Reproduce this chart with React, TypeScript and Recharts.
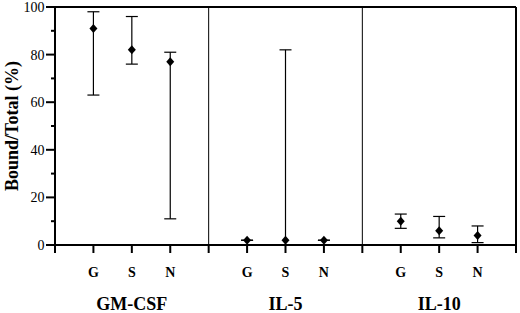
import { ScatterChart, Scatter, XAxis, YAxis, ErrorBar, ReferenceLine } from 'recharts';

const groups = ['GM-CSF', 'IL-5', 'IL-10'];
const subsets = ['G', 'S', 'N'];

// bound/total %, one value per group x subset (G, S, N)
const means = [91, 82, 77, 2, 2, 2, 10, 6, 4];
const lows = [63, 76, 11, 2, 0, 2, 7, 3, 1];
const highs = [98, 96, 81, 2, 82, 2, 13, 12, 8];

const xTicks = [0, 1, 2, 3, 4, 5, 6, 7, 8, 9, 10, 11, 12];
const yTicks = [0, 10, 20, 30, 40, 50, 60, 70, 80, 90, 100];
const yLabels = ['0', '20', '40', '60', '80', '100'];

const font = '"Liberation Serif", "Times New Roman", serif';

const data = means.map((m, i) => ({
  x: Math.floor(i / 3) * 4 + (i % 3) + 1,
  y: m,
  err: [m - lows[i], highs[i] - m],
}));

function XTick(props: any) {
  const { x, y, payload } = props;
  const v = payload.value;
  const pos = v % 4;
  const letter = pos === 0 ? '' : subsets[pos - 1];
  const group = pos === 2 ? groups[Math.floor(v / 4)] : '';
  return (
    <g>
      <line x1={x} x2={x} y1={y} y2={y + 8} stroke="#000" strokeWidth={2} />
      {letter && (
        <text x={x} y={y + 32} textAnchor="middle" fontSize={14} fontWeight="bold" fontFamily={font} fill="#000">
          {letter}
        </text>
      )}
      {group && (
        <text x={x} y={y + 65} textAnchor="middle" fontSize={18} fontWeight="bold" fontFamily={font} fill="#000">
          {group}
        </text>
      )}
    </g>
  );
}

function YTick(props: any) {
  const { x, y, payload } = props;
  const label = String(payload.value);
  const major = yLabels.includes(label);
  return (
    <g>
      <line x1={x - (major ? 9 : 4)} x2={x} y1={y} y2={y} stroke="#000" strokeWidth={2} />
      {major && (
        <text x={x - 10.5} y={y} dy="0.35em" textAnchor="end" fontSize={14} fontFamily={font} fill="#000">
          {label}
        </text>
      )}
    </g>
  );
}

function Diamond(props: any) {
  const { cx, cy } = props;
  return <polygon points={`${cx},${cy - 4.5} ${cx + 4},${cy} ${cx},${cy + 4.5} ${cx - 4},${cy}`} fill="#000" />;
}

function YLabel(props: any) {
  const { viewBox } = props;
  const cx = viewBox.x + 11.5;
  const cy = viewBox.y + viewBox.height / 2;
  return (
    <text
      x={cx}
      y={cy}
      transform={`rotate(-90, ${cx}, ${cy})`}
      textAnchor="middle"
      dominantBaseline="central"
      fontSize={18}
      fontWeight="bold"
      fontFamily={font}
      fill="#000"
    >
      Bound/Total (%)
    </text>
  );
}

export default function App() {
  return (
    <div style={{ position: 'absolute', left: 0, top: 0, background: '#fff' }}>
      <ScatterChart width={520} height={313} margin={{ top: 7, right: 4, bottom: 0, left: 0 }}>
        <XAxis
          type="number"
          dataKey="x"
          domain={[0, 12]}
          ticks={xTicks}
          interval={0}
          height={68}
          tickSize={0}
          tickMargin={0}
          tickLine={false}
          axisLine={{ stroke: '#000', strokeWidth: 2 }}
          tick={<XTick />}
        />
        <YAxis
          type="number"
          dataKey="y"
          domain={[0, 100]}
          ticks={yTicks}
          interval={0}
          width={55}
          tickSize={0}
          tickMargin={0}
          tickLine={false}
          axisLine={{ stroke: '#000', strokeWidth: 2 }}
          tick={<YTick />}
          label={{ content: <YLabel /> }}
        />
        <ReferenceLine x={4} stroke="#000" strokeWidth={1} />
        <ReferenceLine x={8} stroke="#000" strokeWidth={1} />
        <ReferenceLine x={12} stroke="#000" strokeWidth={2} />
        <ReferenceLine y={100} stroke="#000" strokeWidth={2} />
        <Scatter data={data} fill="#000" shape={<Diamond />} isAnimationActive={false}>
          <ErrorBar dataKey="err" direction="y" width={6} stroke="#000" strokeWidth={1.2} />
        </Scatter>
      </ScatterChart>
    </div>
  );
}
